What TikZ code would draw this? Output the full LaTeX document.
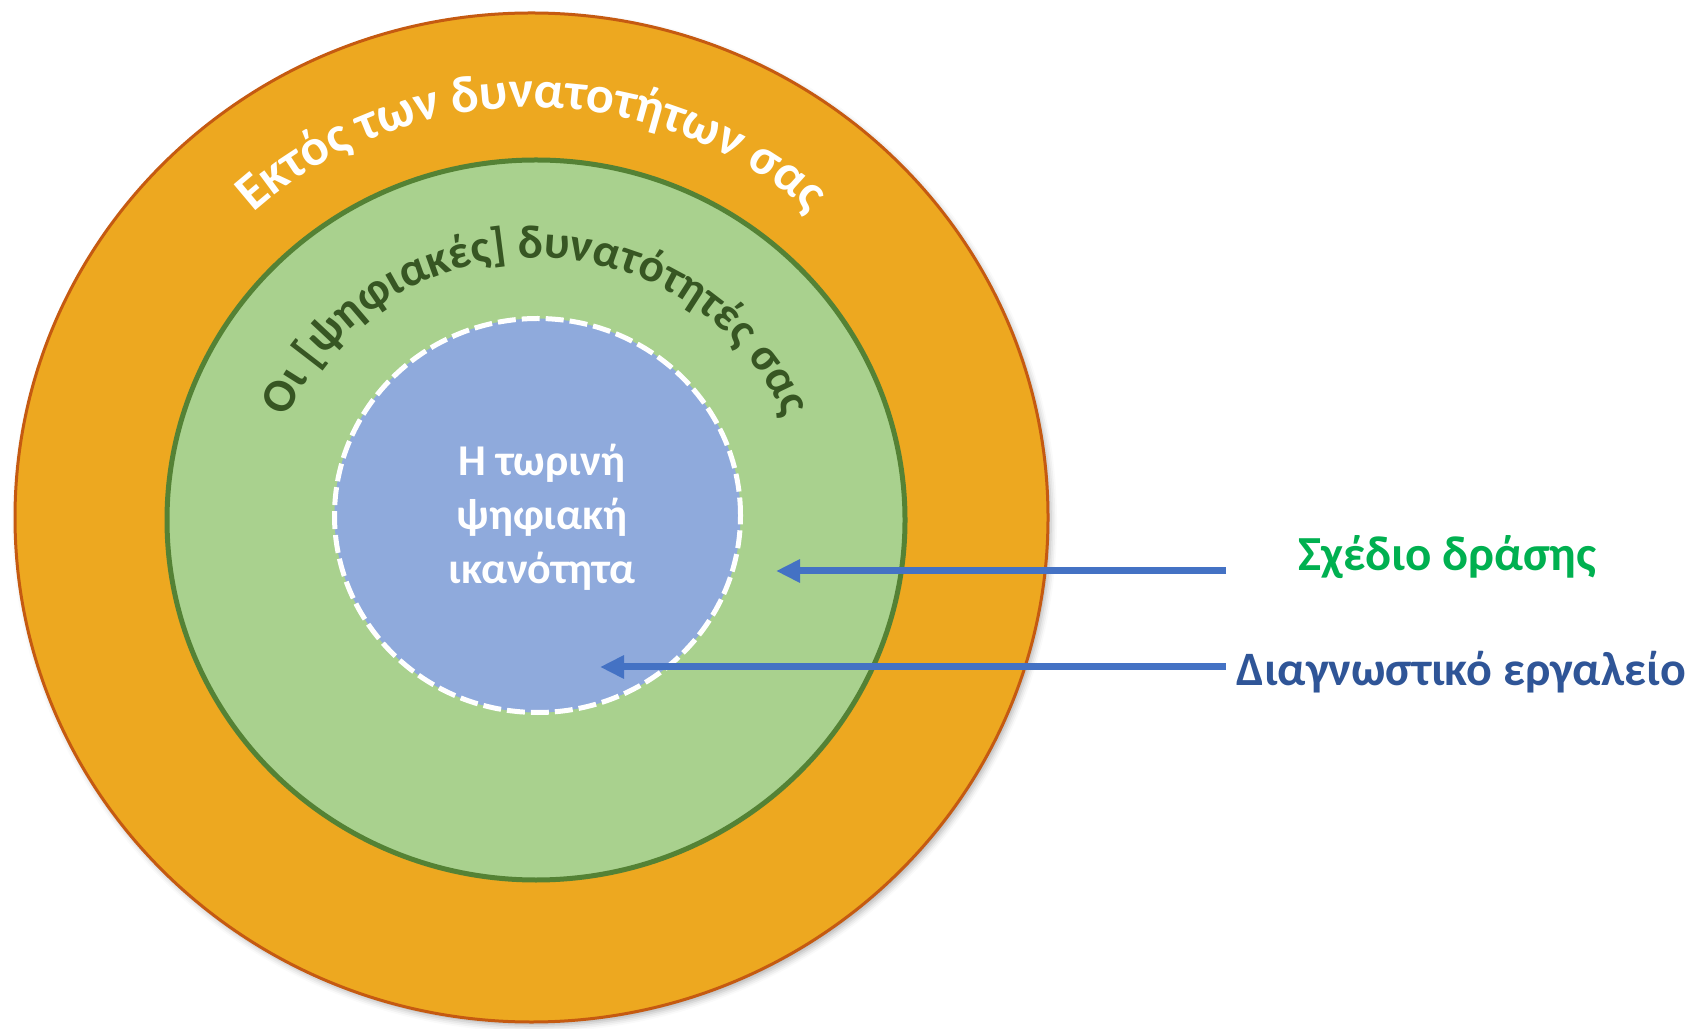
\documentclass[tikz,border=0pt]{standalone}
\usepackage{fontspec}
\newfontfamily\carlito{Carlito}
\usepackage{tikz}
\usetikzlibrary{positioning, calc, arrows.meta, decorations.text, shadows.blur}

\definecolor{ringorange}{HTML}{EDA820}
\definecolor{ringedge}{HTML}{C55A11}
\definecolor{midgreen}{HTML}{A9D18E}
\definecolor{midedge}{HTML}{548235}
\definecolor{coreblue}{HTML}{8FAADC}
\definecolor{arrowblue}{HTML}{4472C4}
\definecolor{darkgreen}{HTML}{375623}
\definecolor{plangreen}{HTML}{00B050}
\definecolor{diagblue}{HTML}{2F5597}

\tikzset{
  outerring/.style = {fill=ringorange, draw=ringedge, line width=1.5pt,
    blur shadow={shadow xshift=1.5pt, shadow yshift=-2pt, shadow blur radius=3pt, shadow opacity=30}},
  midring/.style = {fill=midgreen, draw=midedge, line width=2.5pt},
  corering/.style = {fill=coreblue, draw=white, line width=2.5pt, dash pattern=on 9pt off 3pt},
  pointer/.style = {draw=arrowblue, line width=3.5pt, -{Triangle[length=12pt, width=11pt]}},
  sidelabel/.style = {inner sep=0pt, font=\carlito\bfseries\fontsize{24}{28}\selectfont},
  coretext/.style = {inner sep=0pt, align=center, text=white,
    font=\carlito\bfseries\fontsize{22}{27}\selectfont}
}

\begin{document}
\begin{tikzpicture}[x=0.5pt, y=0.5pt]
    \useasboundingbox (0,0) rectangle (1689,1028);
    \coordinate (outerc) at (531.5,510.5);
    \coordinate (midc) at (536,508);
    \coordinate (corec) at (537.5,512.5);

    % the three rings
    \path[outerring] (outerc) ellipse [x radius=516.5, y radius=504.5];
    \path[midring] (midc) ellipse [x radius=369, y radius=360];
    \path[corering] (corec) ellipse [x radius=203, y radius=197];

    % curved ring titles
    \path[decorate, decoration={text along path, text align=center,
        text={|\carlito\bfseries\fontsize{26}{31}\selectfont\color{white}|Εκτός των δυνατοτήτων σας}}]
        ($(outerc)+(-415,0)$) arc [start angle=180, end angle=0, x radius=415, y radius=410];
    \path[decorate, decoration={text along path, text align=center,
        text={|\carlito\bfseries\fontsize{23.5}{28}\selectfont\color{darkgreen}|Οι [ψηφιακές] δυνατότητές σας}}]
        ($(midc)+(-270,0)$) arc [start angle=180, end angle=0, x radius=270, y radius=262];

    \node[coretext] (now) at (542,511) {Η τωρινή\\ψηφιακή\\ικανότητα};

    % side labels and pointers
    \coordinate (plantail) at (1226,457);
    \coordinate (planhead) at (776,457);
    \node[sidelabel, text=plangreen, font=\carlito\bfseries\fontsize{24.5}{29}\selectfont,
        right=36pt of plantail, anchor=base west] (plan) {Σχέδιο δράσης};

    \coordinate (diagtail) at (1226,361);
    \coordinate (diaghead) at (600,361);
    \node[sidelabel, text=diagblue, right=5pt of diagtail, anchor=base west, yshift=-9pt] (diag) {Διαγνωστικό εργαλείο};

    \draw[pointer] (plantail) -- (planhead);
    \draw[pointer] (diagtail) -- (diaghead);
\end{tikzpicture}
\end{document}
